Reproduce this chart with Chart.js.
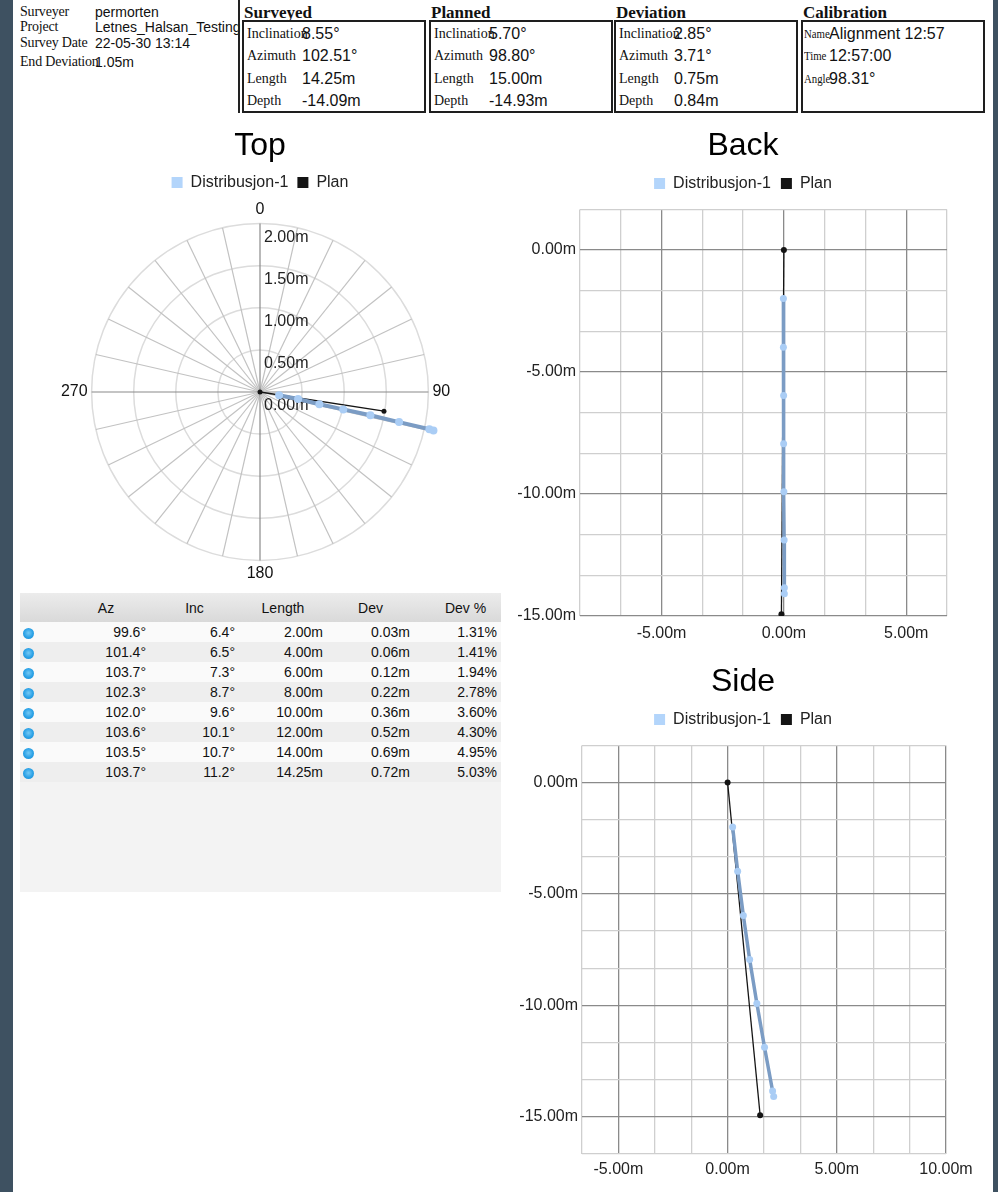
<!DOCTYPE html>
<html lang="no">
<head>
<meta charset="utf-8">
<title>Borehole survey report</title>
<script src="https://cdn.jsdelivr.net/npm/chart.js@4.4.1/dist/chart.umd.min.js"></script>
<style>
  html, body { margin: 0; padding: 0; }
  body { width: 998px; height: 1192px; background: #3e5161; position: relative; overflow: hidden;
         font-family: "Liberation Sans", Arial, sans-serif; color: #111; }
  .sheet { position: absolute; left: 13px; top: 0; width: 980px; height: 1192px; background: #fff; }
  .t { position: absolute; white-space: nowrap; line-height: 16px; }
  .serif { font-family: "Liberation Serif", "Times New Roman", serif; font-size: 14px; letter-spacing: -0.2px; }
  .sans { font-size: 14px; }
  .divider { position: absolute; left: 238px; top: 0; width: 2px; height: 113px; background: #222; }
  .head { position: absolute; top: 4px; font-family: "Liberation Serif", serif; font-weight: bold;
          font-size: 17px; line-height: 18px; white-space: nowrap; }
  .box { position: absolute; top: 20px; width: 180px; height: 89px; border: 2px solid #1e1e1e; }
  .row { position: absolute; left: 0; right: 0; height: 22px; line-height: 22px; white-space: nowrap; }
  .row .k { position: absolute; left: 3px; font-family: "Liberation Serif", serif; font-size: 14px; }
  .row .v { position: absolute; left: 58px; font-size: 16px; }
  .box.cal .k { font-size: 13.5px; left: 1px; transform: scaleX(0.8); transform-origin: 0 50%; }
  .box.cal .v { left: 26px; }
  .grid { position: absolute; left: 20px; top: 593px; width: 481px; height: 299px; background: #f3f3f3; }
  .grid table { border-collapse: collapse; width: 481px; table-layout: fixed; font-size: 14px; }
  .grid th { height: 29px; padding: 0; font-weight: normal; text-align: center;
             background: linear-gradient(#ececec, #d9d9d9); }
  .grid th.pct { padding-left: 16px; }
  .grid td { height: 20px; padding: 0 4px 0 0; text-align: right; line-height: 20px; }
  .grid tr.odd td { background: #fafafa; }
  .grid tr.even td { background: #eeeeee; }
  .grid td.ic { text-align: left; padding: 0 0 0 3px; }
  .dot { display: inline-block; width: 11px; height: 11px; border-radius: 50%; vertical-align: middle;
         background: radial-gradient(circle at 50% 45%, #74c8f4 0%, #2aa1e6 55%, #1788d0 100%); }
  canvas { position: absolute; }
</style>
</head>
<body>
<div class="sheet"></div>

<!-- survey metadata -->
<div class="t serif" style="left:20px;top:4px">Surveyer</div>
<div class="t sans"  style="left:95px;top:4px">permorten</div>
<div class="t serif" style="left:20px;top:19px">Project</div>
<div class="t sans"  style="left:95px;top:19px">Letnes_Halsan_Testing</div>
<div class="t serif" style="left:20px;top:35px">Survey Date</div>
<div class="t sans"  style="left:95px;top:35px">22-05-30 13:14</div>
<div class="t serif" style="left:20px;top:54px">End Deviation</div>
<div class="t sans"  style="left:95px;top:54px">1.05m</div>
<div class="divider"></div>

<div class="head" style="left:244px">Surveyed</div>
<div class="box" style="left:242px">
  <div class="row" style="top:1px"><span class="k">Inclination</span><span class="v">8.55°</span></div>
  <div class="row" style="top:23px"><span class="k">Azimuth</span><span class="v">102.51°</span></div>
  <div class="row" style="top:46px"><span class="k">Length</span><span class="v">14.25m</span></div>
  <div class="row" style="top:68px"><span class="k">Depth</span><span class="v">-14.09m</span></div>
</div>

<div class="head" style="left:431px">Planned</div>
<div class="box" style="left:429px">
  <div class="row" style="top:1px"><span class="k">Inclination</span><span class="v">5.70°</span></div>
  <div class="row" style="top:23px"><span class="k">Azimuth</span><span class="v">98.80°</span></div>
  <div class="row" style="top:46px"><span class="k">Length</span><span class="v">15.00m</span></div>
  <div class="row" style="top:68px"><span class="k">Depth</span><span class="v">-14.93m</span></div>
</div>

<div class="head" style="left:616px">Deviation</div>
<div class="box" style="left:614px">
  <div class="row" style="top:1px"><span class="k">Inclination</span><span class="v">2.85°</span></div>
  <div class="row" style="top:23px"><span class="k">Azimuth</span><span class="v">3.71°</span></div>
  <div class="row" style="top:46px"><span class="k">Length</span><span class="v">0.75m</span></div>
  <div class="row" style="top:68px"><span class="k">Depth</span><span class="v">0.84m</span></div>
</div>

<div class="head" style="left:803px">Calibration</div>
<div class="box cal" style="left:801px">
  <div class="row" style="top:1px"><span class="k">Name</span><span class="v">Alignment 12:57</span></div>
  <div class="row" style="top:23px"><span class="k">Time</span><span class="v">12:57:00</span></div>
  <div class="row" style="top:46px"><span class="k">Angle</span><span class="v">98.31°</span></div>
</div>

<!-- station table -->
<div class="grid">
  <table>
    <colgroup><col style="width:42px"><col style="width:88px"><col style="width:89px"><col style="width:88px"><col style="width:87px"><col style="width:87px"></colgroup>
    <thead><tr><th></th><th>Az</th><th>Inc</th><th>Length</th><th>Dev</th><th class="pct">Dev %</th></tr></thead>
    <tbody id="stations"></tbody>
  </table>
</div>

<canvas id="top"  width="480" height="467" style="left:20px;top:117px"></canvas>
<canvas id="back" width="486" height="535" style="left:500px;top:117px"></canvas>
<canvas id="side" width="486" height="537" style="left:500px;top:653px"></canvas>

<script>
// ---- survey stations ----
const stationAz     = [99.6, 101.4, 103.7, 102.3, 102.0, 103.6, 103.5, 103.7];
const stationInc    = [6.4, 6.5, 7.3, 8.7, 9.6, 10.1, 10.7, 11.2];
const stationLength = [2.00, 4.00, 6.00, 8.00, 10.00, 12.00, 14.00, 14.25];
const stationDev    = [0.03, 0.06, 0.12, 0.22, 0.36, 0.52, 0.69, 0.72];
const stationDevPct = [1.31, 1.41, 1.94, 2.78, 3.60, 4.30, 4.95, 5.03];

// ---- surveyed trajectory (Distribusjon-1) ----
const surveyBearing = [99.6, 100.5, 101.6, 101.8, 101.9, 102.2, 102.4, 102.5];   // degrees
const surveyOffset  = [0.23, 0.46, 0.72, 1.01, 1.34, 1.69, 2.06, 2.11];          // horizontal distance, m
const surveyCross   = [-0.02, -0.02, -0.01, -0.01, 0.00, 0.01, 0.02, 0.02];      // across the line, m
const surveyDepth   = [-1.99, -3.98, -5.96, -7.94, -9.91, -11.88, -13.84, -14.09];

// ---- planned trajectory ----
const planBearing = [0, 98.8];
const planOffset  = [0, 1.49];
const planCross   = [0, -0.10];
const planDepth   = [0, -14.93];

// ---- axis ticks ----
const compassLabels = ['0', '', '', '', '', '', '', '90', '', '', '', '', '', '',
                       '180', '', '', '', '', '', '', '270', '', '', '', '', '', ''];
const backXTicks = [-8.333, -6.667, -5, -3.333, -1.667, 0, 1.667, 3.333, 5, 6.667];
const backYTicks = [-15, -13.333, -11.667, -10, -8.333, -6.667, -5, -3.333, -1.667, 0, 1.667];
const sideXTicks = [-6.667, -5, -3.333, -1.667, 0, 1.667, 3.333, 5, 6.667, 8.333, 10];
const sideYTicks = [-16.667, -15, -13.333, -11.667, -10, -8.333, -6.667, -5, -3.333, -1.667, 0, 1.667];

// ---- table ----
const tbody = document.getElementById('stations');
stationAz.forEach((az, i) => {
  const tr = document.createElement('tr');
  tr.className = i % 2 === 0 ? 'odd' : 'even';
  tr.innerHTML = '<td class="ic"><span class="dot"></span></td>' +
    '<td>' + az.toFixed(1) + '°</td>' +
    '<td>' + stationInc[i].toFixed(1) + '°</td>' +
    '<td>' + stationLength[i].toFixed(2) + 'm</td>' +
    '<td>' + stationDev[i].toFixed(2) + 'm</td>' +
    '<td>' + stationDevPct[i].toFixed(2) + '%</td>';
  tbody.appendChild(tr);
});

// ---- charts ----
Chart.defaults.font.family = '"Liberation Sans", Arial, sans-serif';
Chart.defaults.color = '#222';

const BLUE_LINE = '#7b9cc4';
const BLUE_POINT = '#aacdf5';
const BLUE_KEY = '#b3d5fb';
const BLACK = '#141414';
const metres = v => v.toFixed(2) + 'm';
const isMajor = v => Math.abs(v / 5 - Math.round(v / 5)) < 1e-3;

const legendLabels = chart => chart.data.datasets.map((ds, i) => ({
  text: ds.label, fillStyle: ds.backgroundColor, strokeStyle: ds.backgroundColor,
  lineWidth: 0, hidden: false, datasetIndex: i, fontColor: '#222'
}));
const titleOpts = text => ({ display: true, text, color: '#000',
  font: { size: 32, weight: 'normal' }, padding: { top: 10, bottom: 0 } });
const legendOpts = pad => ({ display: true,
  labels: { boxWidth: 11, boxHeight: 11, padding: pad, font: { size: 16 }, color: '#222',
            generateLabels: legendLabels } });

// Top view: compass rose on the radial scale, tracks placed with the scale's own geometry
const polarTracks = [
  { bearing: planBearing, offset: planOffset, line: BLACK, width: 1.3, point: BLACK, radius: 2.5 },
  { bearing: surveyBearing, offset: surveyOffset, line: BLUE_LINE, width: 4, point: BLUE_POINT, radius: 4 }
];
const polarTrackPlugin = {
  id: 'polarTrack',
  beforeDatasetsDraw(chart) {
    const s = chart.scales.r, ctx = chart.ctx;
    ctx.save();
    ctx.font = '16px "Liberation Sans", Arial, sans-serif';
    ctx.fillStyle = '#222';
    ctx.textAlign = 'left';
    ctx.textBaseline = 'middle';
    s.ticks.forEach(t => {
      ctx.fillText(t.label, s.xCenter + 4, s.yCenter - s.getDistanceFromCenterForValue(t.value) + 14);
    });
    ctx.restore();
  },
  afterDatasetsDraw(chart) {
    const s = chart.scales.r, ctx = chart.ctx, n = chart.data.labels.length;
    polarTracks.forEach(tr => {
      const pts = tr.bearing.map((b, i) => s.getPointPositionForValue(b / 360 * n, tr.offset[i]));
      ctx.save();
      ctx.strokeStyle = tr.line;
      ctx.lineWidth = tr.width;
      ctx.lineJoin = 'round';
      ctx.beginPath();
      pts.forEach((p, i) => i ? ctx.lineTo(p.x, p.y) : ctx.moveTo(p.x, p.y));
      ctx.stroke();
      ctx.fillStyle = tr.point;
      pts.forEach(p => { ctx.beginPath(); ctx.arc(p.x, p.y, tr.radius, 0, Math.PI * 2); ctx.fill(); });
      ctx.restore();
    });
  }
};

new Chart(document.getElementById('top'), {
  type: 'radar',
  data: {
    labels: compassLabels,
    datasets: [
      { label: 'Distribusjon-1', data: [], backgroundColor: BLUE_KEY, borderColor: BLUE_LINE },
      { label: 'Plan', data: [], backgroundColor: BLACK, borderColor: BLACK }
    ]
  },
  options: {
    responsive: false, animation: false, devicePixelRatio: 1,
    plugins: { title: titleOpts('Top'), legend: legendOpts(9), tooltip: { enabled: false } },
    scales: {
      r: {
        min: 0, max: 2,
        ticks: { stepSize: 0.5, display: false, callback: metres },
        grid: { circular: true, color: '#dcdcdc', lineWidth: 1.5 },
        angleLines: { color: c => c.index % 7 === 0 ? '#8a8a8a' : '#c2c2c2', lineWidth: 1.2 },
        pointLabels: { font: { size: 16 }, color: '#111', padding: 4 }
      }
    }
  },
  plugins: [polarTrackPlugin]
});

// Back and Side views: scatter with connected points on square-ish metre grids
function sectionChart(id, title, xTicks, yTicks, surveyX, planX, leftWidth, rightWidth, labelPad) {
  const axis = (ticks, extra) => Object.assign({
    type: 'linear', min: ticks[0], max: ticks[ticks.length - 1],
    afterBuildTicks: s => { s.ticks = ticks.map(v => ({ value: v })); },
    ticks: { autoSkip: false, maxRotation: 0, font: { size: 16 }, color: '#222',
             callback: v => isMajor(v) ? metres(v) : '' },
    grid: { color: c => (c.tick && isMajor(c.tick.value)) ? '#8a8a8a' : '#cfcfcf',
            lineWidth: 1.3, drawTicks: false },
    border: { display: false }
  }, extra);
  const spacer = (position, size) => ({
    type: 'linear', position, display: true,
    grid: { display: false }, ticks: { display: false }, border: { display: false },
    afterFit: s => { if (position === 'top') s.height = size; else s.width = size; }
  });
  const x = axis(xTicks, {});
  x.ticks.padding = labelPad;
  x.afterFit = s => { s.height = 36; };
  const y = axis(yTicks, {});
  y.ticks.padding = 4;
  y.afterFit = s => { s.width = leftWidth; };
  return new Chart(document.getElementById(id), {
    type: 'scatter',
    data: {
      datasets: [
        { label: 'Distribusjon-1', showLine: true,
          data: surveyX.map((v, i) => ({ x: v, y: surveyDepth[i] })),
          borderColor: BLUE_LINE, borderWidth: 3.5, backgroundColor: BLUE_KEY,
          pointBackgroundColor: BLUE_POINT, pointBorderWidth: 0, pointRadius: 3.5 },
        { label: 'Plan', showLine: true,
          data: planX.map((v, i) => ({ x: v, y: planDepth[i] })),
          borderColor: BLACK, borderWidth: 1.3, backgroundColor: BLACK,
          pointBackgroundColor: BLACK, pointBorderWidth: 0, pointRadius: 3 }
      ]
    },
    options: {
      responsive: false, animation: false, devicePixelRatio: 1,
      plugins: { title: titleOpts(title), legend: legendOpts(10), tooltip: { enabled: false } },
      scales: { x, y, yPad: spacer('right', rightWidth), xPad: spacer('top', 8) }
    }
  });
}

sectionChart('back', 'Back', backXTicks, backYTicks, surveyCross, planCross, 80, 39, 8);
sectionChart('side', 'Side', sideXTicks, sideYTicks, surveyOffset, planOffset, 82, 40, 6);
</script>
</body>
</html>
